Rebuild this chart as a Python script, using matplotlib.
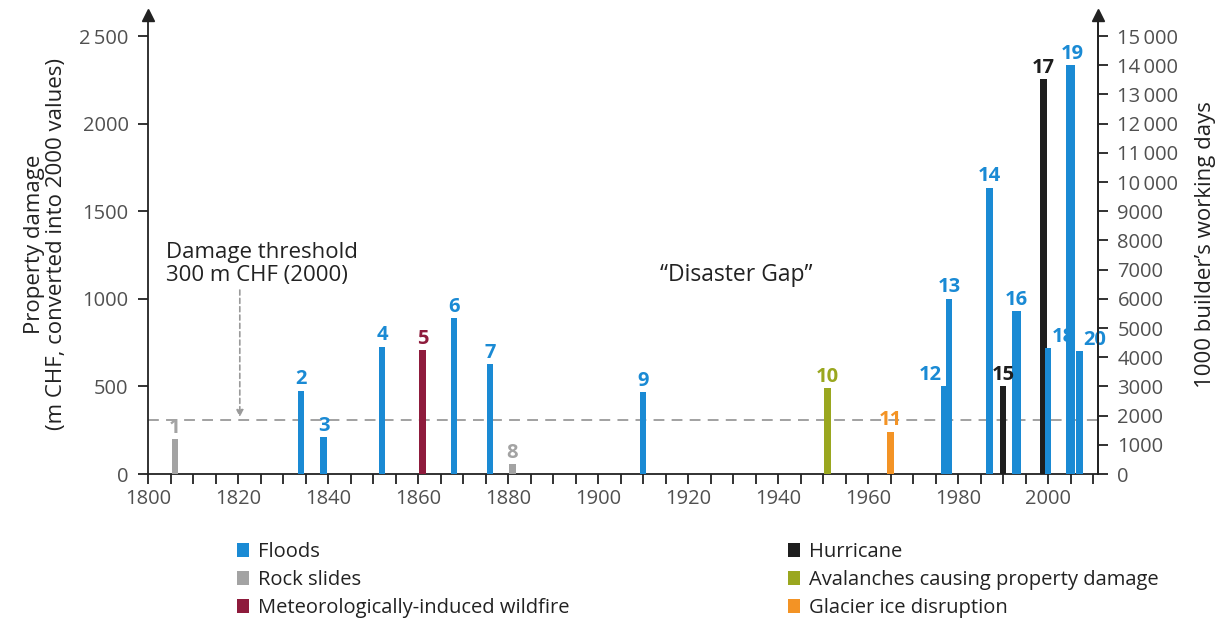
import matplotlib
matplotlib.use("Agg")
import matplotlib.pyplot as plt
from matplotlib.patches import Patch
from matplotlib.ticker import FixedLocator, FuncFormatter

# ---------------- data ----------------
event_ids = list(range(1, 21))
years = [1806, 1834, 1839, 1852, 1861, 1868, 1876, 1881, 1910, 1951,
         1965, 1977, 1978, 1987, 1990, 1993, 1999, 2000, 2005, 2007]
damage = [200, 475, 210, 726, 707, 888, 627, 57, 466, 489,
          241, 500, 1000, 1635, 500, 930, 2253, 717, 2333, 700]
event_types = ["Rock slides", "Floods", "Floods", "Floods", "Meteorologically-induced wildfire",
               "Floods", "Floods", "Rock slides", "Floods", "Avalanches causing property damage",
               "Glacier ice disruption", "Floods", "Floods", "Floods", "Hurricane",
               "Floods", "Hurricane", "Floods", "Floods", "Floods"]
threshold = 310
left_ticks = [0, 500, 1000, 1500, 2000, 2500]
right_ticks = list(range(0, 15001, 1000))
x_major = list(range(1800, 2001, 20))
legend_left = ["Floods", "Rock slides", "Meteorologically-induced wildfire"]
legend_right = ["Hurricane", "Avalanches causing property damage", "Glacier ice disruption"]

# ---------------- style ----------------
colors = {
    "Floods": "#1a8ad4",
    "Rock slides": "#a3a3a3",
    "Meteorologically-induced wildfire": "#8e1b3c",
    "Hurricane": "#1e1e1e",
    "Avalanches causing property damage": "#9aa71f",
    "Glacier ice disruption": "#f39325",
}
wide = {16: 2.0, 19: 2.0}
label_offsets = {12: (-2, 0, "right"), 18: (3, 0, "left"), 20: (3, 0, "left"), 19: (1, 0, "center")}

FONT = ["Open Sans", "DejaVu Sans"]
plt.rcParams["font.family"] = FONT
TXT = "#222222"
TICKC = "#505050"
TICKFS = 14.5

W, H, DPI = 1223, 618, 100
fig = plt.figure(figsize=(W / DPI, H / DPI), dpi=DPI)
ax = fig.add_axes([148 / W, 1 - 474 / H, (1098 - 148) / W, (474 - 15) / H])
YTOP = 2620
XMAX = 2011.1
ax.set_xlim(1800, XMAX)
ax.set_ylim(0, YTOP)

for i, (eid, yr, d, t) in enumerate(zip(event_ids, years, damage, event_types)):
    c = colors[t]
    ax.bar(yr, d, width=wide.get(eid, 1.4), color=c, zorder=3)
    dx, dy, ha = label_offsets.get(eid, (0, 0, "center"))
    ax.annotate(str(eid), (yr, d), xytext=(dx, 1 + dy), textcoords="offset points",
                ha=ha, va="bottom", color=c, fontsize=14.5, fontweight="bold", zorder=4)

ax.axhline(threshold, color="#9a9a9a", lw=1.3, dashes=(6, 4), zorder=2)

# spines
ax.spines["top"].set_visible(False)
for s in ["left", "right", "bottom"]:
    ax.spines[s].set_linewidth(1.3)
    ax.spines[s].set_color(TXT)
ax.plot([0, 1], [1, 1], transform=ax.transAxes, ls="none", marker="^", ms=8,
        color=TXT, clip_on=False, zorder=5)

ax.xaxis.set_major_locator(FixedLocator(x_major))
ax.xaxis.set_minor_locator(FixedLocator(list(range(1800, 2011, 5))))
ax.tick_params(axis="x", which="both", direction="out", length=7, width=1.3, color=TXT)
ax.tick_params(axis="x", labelsize=TICKFS, labelcolor=TICKC, pad=4)

def fmt(v, pos=None):
    v = int(v)
    if v >= 10000 or v == 2500:
        return f"{v:,}".replace(",", "\u2009")
    return str(v)

ax.yaxis.set_major_locator(FixedLocator(left_ticks))
ax.yaxis.set_major_formatter(FuncFormatter(fmt))
ax.tick_params(axis="y", direction="out", length=7, width=1.3, color=TXT,
               labelsize=TICKFS, labelcolor=TICKC, pad=7)
ax.set_ylabel("Property damage\n(m CHF, converted into 2000 values)", fontsize=16,
              color=TXT, labelpad=9, linespacing=1.05)

ax2 = ax.twinx()
ax2.set_ylim(0, YTOP * 6)
ax2.yaxis.set_major_locator(FixedLocator(right_ticks))
ax2.yaxis.set_major_formatter(FuncFormatter(fmt))
ax2.tick_params(axis="y", direction="out", length=7, width=1.3, color=TXT,
                labelsize=TICKFS, labelcolor=TICKC, pad=7)
for s in ["top", "left", "bottom"]:
    ax2.spines[s].set_visible(False)
ax2.spines["right"].set_linewidth(1.3)
ax2.spines["right"].set_color(TXT)
ax2.set_ylabel("1000 builder\u2019s working days", fontsize=16, color=TXT, labelpad=12)

# annotations
ax.text(1804.0, 1075, "Damage threshold\n300 m CHF (2000)", ha="left", va="bottom",
        fontsize=16, color=TXT, linespacing=1.1)
ax.annotate("", xy=(1820.4, threshold + 15), xytext=(1820.4, 1050),
            arrowprops=dict(arrowstyle="-|>", color="#9a9a9a", lw=1.2, ls=(0, (3, 2)),
                            mutation_scale=10, shrinkA=0, shrinkB=0))
ax.text(1930.7, 1135, "\u201cDisaster Gap\u201d", ha="center", va="center", fontsize=16.5,
        color=TXT)

# legends
def handles(names):
    return [Patch(facecolor=colors[n], edgecolor="none", label=n) for n in names]

for names, x0 in [(legend_left, 237), (legend_right, 788)]:
    fig.legend(handles=handles(names), loc="upper left",
               bbox_to_anchor=(x0 / W, 1 - 542 / H), frameon=False, fontsize=14.5,
               handlelength=0.6, handleheight=0.65, handletextpad=0.45, labelspacing=0.4,
               borderpad=0, borderaxespad=0, labelcolor=TXT)

fig.savefig("out.png", dpi=DPI)
